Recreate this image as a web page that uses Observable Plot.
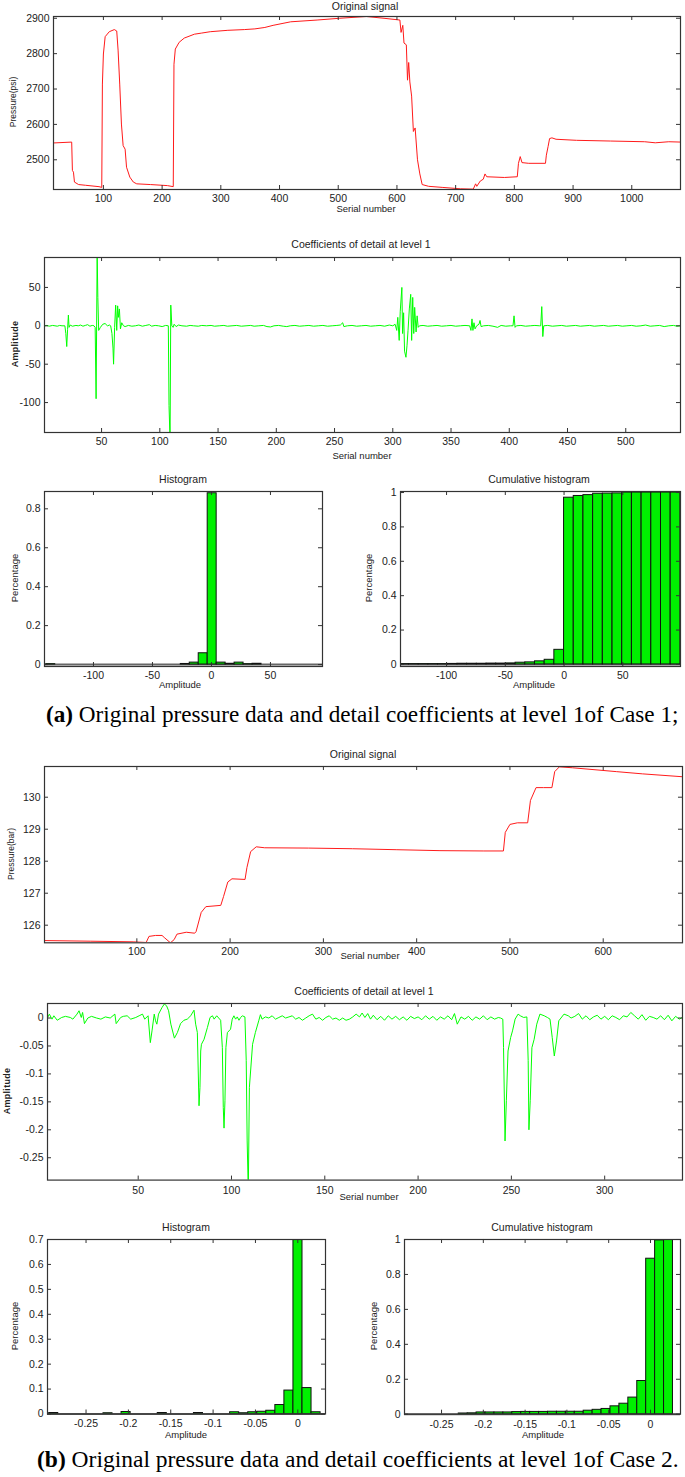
<!DOCTYPE html>
<html><head><meta charset="utf-8">
<script src="https://cdn.jsdelivr.net/npm/d3@7"></script>
<script src="https://cdn.jsdelivr.net/npm/@observablehq/plot@0.6"></script>
<style>
body{margin:0;background:#fff}
#page{position:relative;width:685px;height:1477px;overflow:hidden;background:#fff;font-family:"Liberation Sans",Arial,sans-serif;color:#222}
.t{position:absolute;white-space:nowrap;transform:translate(-50%,-50%);line-height:1}
.r{transform:translate(-50%,-50%) rotate(-90deg)}
.cap{position:absolute;font-family:"Liberation Serif","Times New Roman",serif;white-space:nowrap;color:#000;line-height:1;transform:translateY(-50%)}
</style></head><body><div id="page"></div>
<script>
// ---------- Case 1: original signal (serial number, pressure psi) ----------
const signal1 = [[8,2547],[46,2550],[47.2,2470],[49,2465],[50.7,2437],[57.7,2430],[69.3,2428],[92.5,2424],[97.2,2422],[98.3,2714],[100,2799],[103,2848],[110,2862],[118.6,2868],[122.7,2864],[125,2810],[127.8,2714],[130.7,2601],[133.6,2540],[137,2530],[139.4,2479],[145,2451],[151,2437],[156.8,2432],[180,2430],[209,2427],[219,2424],[220.2,2770],[222.5,2813],[229,2832],[237.7,2844],[255,2855],[266.7,2858],[282,2862],[312,2866],[340,2868],[358,2870],[375,2874],[389,2880],[419,2890],[464,2895],[502,2900],[548,2905],[578,2900],[605,2895],[607,2860],[610,2880],[612,2830],[616,2825],[618,2725],[620,2775],[622,2720],[625,2680],[628,2580],[631,2590],[635,2500],[639,2460],[643,2430],[654,2425],[677,2422],[708,2418],[730,2417],[734,2432],[736,2425],[742,2440],[747,2445],[750,2460],[753,2452],[783,2450],[805,2452],[807,2490],[810,2509],[813,2492],[824.5,2490],[853,2490],[854.5,2513],[857.4,2537],[860,2560],[864,2562],[871,2558],[906,2555],[964,2553],[1022,2551],[1040,2548],[1063,2551],[1084,2550]];
const signal1XTicks = [100,200,300,400,500,600,700,800,900,1000];
const signal1YTicks = [2500,2600,2700,2800,2900];

// ---------- Case 1: detail coefficients at level 1 ----------
const coef1 = [[1,0],[3,0.5],[5,-0.5],[8,0.5],[10,0],[12,-0.5],[14,0.5],[16,0],[18.5,0],[19.3,-10],[20.1,-27],[20.8,-5],[21.5,14],[22.1,-2],[23,1],[25,-0.5],[28,0.5],[30,0],[32,1],[34,-0.5],[36,0.5],[38,1.5],[40,-0.5],[42,0.5],[43.5,0],[44.5,-2],[45.3,-95],[46.2,95],[46.8,37],[47.5,-6],[49,-2],[51,2],[53,3],[55,0],[57,1],[57.8,0],[58.9,-10],[59.8,-29],[60.3,-50],[61.2,-2],[62.1,27],[63,-6],[63.8,26],[64.4,11],[65.3,22],[66.2,-4],[67.3,4],[68.8,0],[70.2,-1],[73,0.5],[76,-0.5],[79,0],[82,1],[85,-0.5],[88,0.5],[91,1.5],[93,-0.5],[96,0.5],[99,0],[102,-1],[105,0.5],[107.3,0],[107.9,-104],[108.8,-150],[109.4,27],[110.3,0],[111.4,-2],[112.3,2],[114,-1],[116,1],[119,0],[123,-0.5],[126,0.5],[129,0],[133,-0.5],[136,0.5],[140,0],[144,0.5],[147,-0.5],[151,0],[155,0.5],[158,-0.5],[162,0],[166,0.5],[170,-0.5],[174,0],[178,0.5],[181,-0.5],[185,0],[189,0.5],[192,-1],[195,-1.5],[198,0],[202,0.5],[206,-0.5],[209,-1],[212,0],[216,0.5],[220,-0.5],[224,0],[228,0.5],[232,-0.5],[236,0],[240,0.5],[244,-0.5],[248,0],[252,0.5],[255,1],[257,4],[258,-1],[261,0],[265,0.5],[269,-0.5],[273,0],[277,0.5],[281,-0.5],[285,0],[289,0.5],[293,-0.5],[297,1],[300,0],[302,2],[303.4,-6],[304.3,11],[305.5,-19],[306.4,19],[307.8,50],[308.4,-10],[309.3,17],[310.1,-33],[311.3,-41],[312.2,-26],[313.1,-6],[314.2,22],[315.4,41],[316.2,-19],[317.1,37],[318,-10],[318.8,24],[320,-8],[320.9,13],[321.8,-2],[322.9,0],[326,0.5],[330,-0.5],[334,0],[338,0.5],[342,-0.5],[346,0],[350,0.5],[354,-0.5],[358,0],[362,0.5],[366,0],[367.1,-6],[368,9],[368.8,-6],[369.7,4],[370.6,-4],[372,0],[374,2],[374.9,7],[375.8,-1],[378,0],[382,0.5],[386,-0.5],[390,-2],[393,0.5],[397,-0.5],[401,0],[403.2,0],[404.1,13],[405,-2],[406.1,0],[410,0.5],[414,-0.5],[418,0],[422,0.5],[426,0],[427,0],[427.9,25],[428.8,-14],[429.6,0],[433,0.5],[437,-0.5],[441,0],[445,0.5],[449,-0.5],[453,0],[457,0.5],[461,-0.5],[465,0],[469,0.5],[473,-0.5],[477,0],[481,0.5],[485,-0.5],[489,0],[493,0.5],[497,-0.5],[501,0],[505,0.5],[509,-0.5],[513,0],[517,1],[521,-0.5],[525,0],[529,0.5],[533,-1],[537,0],[541,0.5],[544,-0.5],[547,0]];
const coef1XTicks = [50,100,150,200,250,300,350,400,450,500];
const coef1YTicks = [-100,-50,0,50];

// ---------- Case 1: histogram and cumulative histogram ----------
const hist1Min = -140, hist1Width = 7.6;
const hist1Values = [0.002,0,0,0,0,0,0,0,0,0,0,0,0,0,0,0.003,0.01,0.058,0.88,0.01,0.004,0.01,0.002,0.004,0,0,0,0,0,0];
const cum1Min = -140.25, cum1Width = 8.25;
const cum1Values = [0.002,0.002,0.002,0.002,0.002,0.003,0.004,0.004,0.004,0.005,0.005,0.006,0.01,0.012,0.018,0.027,0.085,0.97,0.98,0.985,0.993,0.994,0.995,1,1,1,1,1,1];
const hist1XTicks = [-100,-50,0,50];
const hist1YTicks = [0,0.2,0.4,0.6,0.8];
const cum1YTicks = [0,0.2,0.4,0.6,0.8,1];

// ---------- Case 2: original signal (serial number, pressure bar) ----------
const signal2 = [[1,125.52],[50,125.5],[96,125.48],[110,125.46],[113,125.65],[120,125.68],[127,125.68],[130,125.6],[136,125.45],[140,125.55],[143,125.72],[153,125.78],[162,125.75],[163.5,125.8],[169,126.4],[174,126.58],[190,126.62],[193,126.9],[197.5,127.35],[202,127.45],[216,127.43],[218,127.8],[222,128.3],[228,128.45],[237,128.42],[284,128.41],[331,128.39],[378,128.36],[425,128.33],[472,128.32],[493,128.32],[495,128.9],[500,129.15],[508,129.2],[519,129.2],[522,129.9],[528,130.3],[536,130.3],[545,130.3],[548,130.8],[553,130.95],[567,130.92],[614,130.8],[642,130.73],[685,130.64]];
const signal2XTicks = [100,200,300,400,500,600];
const signal2YTicks = [126,127,128,129,130];

// ---------- Case 2: detail coefficients at level 1 ----------
const coef2 = [[1.3,0],[2.4,0.007],[3.8,-0.002],[4.8,0.004],[6.6,-0.004],[9,0.001],[11,0.003],[13.6,0.001],[15,-0.002],[17.2,0.007],[18.3,0.013],[19.5,0.001],[20.2,0.01],[21.2,-0.01],[23,0],[25,0.003],[27.7,0],[30,-0.002],[32.4,0.002],[35,0],[37.5,0.007],[38.2,-0.01],[40.6,0.001],[42,0.003],[44.1,0.004],[46,-0.002],[48.7,0.001],[50.5,0.004],[52.3,0.007],[53.5,-0.002],[55.3,0.004],[56.5,-0.044],[57.4,-0.023],[58.6,0.007],[59.3,-0.005],[60,-0.011],[60.9,0.007],[62.8,0.019],[64,0.025],[65.2,0.022],[66.3,0.013],[67.5,-0.011],[69.4,-0.036],[71,-0.026],[72.7,-0.01],[74.5,-0.004],[76.3,-0.002],[78.1,0.004],[79.9,0.014],[80.8,-0.011],[81.7,-0.026],[82.6,-0.157],[83.1,-0.124],[83.5,-0.059],[83.9,-0.047],[85.3,-0.038],[87.1,-0.017],[88.5,0.001],[89.8,0.004],[90.7,-0.002],[92.1,0.004],[94.2,-0.004],[95.1,-0.053],[95.6,-0.16],[96,-0.197],[96.5,-0.148],[97,-0.053],[97.8,-0.026],[99.5,-0.02],[100.4,-0.002],[101.3,0.004],[102.2,-0.002],[103.1,0.002],[104,-0.004],[104.9,0.001],[105.8,0.004],[107.2,0.002],[107.9,-0.076],[108.4,-0.22],[109,-0.31],[109.6,-0.124],[111.3,-0.047],[112.8,-0.026],[114.6,-0.005],[115.5,0.006],[116.4,-0.002],[118.2,0.002],[120,0],[121.8,0.004],[123.6,-0.002],[125.4,0.001],[127.2,0.004],[129,0],[130.8,0.002],[132.6,0.004],[134.4,-0.002],[136.2,0.001],[138,-0.004],[139.8,0],[141.6,0.004],[143.4,0.007],[145.2,-0.002],[147,0.001],[148.8,-0.004],[150.6,0.001],[152.4,0.004],[154.2,-0.002],[156,0],[157.8,-0.004],[159.6,0],[161.4,-0.004],[163.2,-0.002],[165,0.002],[166.8,0.007],[168.6,0.002],[170,0.009],[171.5,0.001],[173,0.008],[174.5,-0.002],[176,0.005],[178,-0.003],[180,0.003],[182,-0.004],[184,0.004],[186,-0.002],[188,0.003],[190,-0.003],[192,0.002],[194,-0.004],[196,0.003],[198,-0.001],[200,0.002],[202,-0.003],[204,0.004],[206,-0.002],[208,0.003],[210,-0.004],[212,0.002],[214,-0.002],[216,0.004],[218,-0.003],[219.5,0.008],[221,-0.011],[223,0.002],[225,-0.002],[227,0.003],[229,-0.004],[231,0.002],[233,-0.002],[235,0.004],[237,-0.003],[239,0.002],[241,-0.002],[243,0.001],[244.2,0],[245.4,-0.002],[245.8,-0.053],[246.6,-0.22],[247.3,-0.148],[248.2,-0.059],[249.6,-0.035],[250.6,-0.023],[252,-0.002],[253.6,0.007],[254.8,0.004],[256.6,0.001],[258.3,0.002],[259,-0.076],[259.4,-0.2],[260.1,-0.148],[261,-0.053],[262.2,-0.038],[263.6,-0.011],[265.3,0.007],[267.6,0.004],[269.3,0.001],[270.7,-0.002],[271.9,-0.035],[273,-0.068],[274.2,-0.041],[275.4,-0.005],[278.2,0.007],[280.5,0.004],[282,0],[284,0.003],[286,0.008],[288,-0.002],[290,0.004],[292,-0.003],[294,0.002],[296,0.005],[298,-0.002],[300,0.003],[302,-0.003],[304,0.004],[306,0.001],[308,-0.003],[310,0.004],[312,0.002],[314,0.01],[316,0.004],[318,-0.002],[320,0.006],[322,-0.004],[324,0.003],[326,0.001],[328,-0.002],[330,0.004],[332,-0.003],[334,0.005],[336,-0.005],[338,0.003],[340,-0.002],[342,0.002]];
const coef2XTicks = [50,100,150,200,250,300];
const coef2YTicks = [-0.25,-0.2,-0.15,-0.1,-0.05,0];

// ---------- Case 2: histogram and cumulative histogram ----------
const hist2Min = -0.2935, hist2Width = 0.01068;
const hist2Values = [0.004,0,0,0,0,0,0.003,0,0.008,0,0,0,0.004,0,0,0,0.004,0,0,0,0.007,0.003,0.007,0.009,0.013,0.036,0.094,0.70,0.104,0.007];
const cum2Values = [0,0,0,0,0,0,0.004,0.005,0.01,0.01,0.01,0.01,0.012,0.013,0.013,0.013,0.014,0.014,0.014,0.014,0.02,0.025,0.03,0.045,0.06,0.095,0.19,0.89,0.995,1];
const hist2XTicks = [-0.25,-0.2,-0.15,-0.1,-0.05,0];
const hist2YTicks = [0,0.1,0.2,0.3,0.4,0.5,0.6,0.7];
const cum2YTicks = [0,0.2,0.4,0.6,0.8,1];

// ---------- helpers ----------
const page = document.getElementById("page");
const FONT = '"Liberation Sans", Arial, sans-serif';
const RED = "#ff1a1a", GREEN = "#00ff00", BAR = "#00f000", INK = "#333";

function bins(min, width, values) {
  return values.map((v, i) => ({x1: min + i * width, x2: min + (i + 1) * width, v}));
}
function pts(arr) { return arr.map(([x, y]) => ({x, y})); }

function panel(c) {
  const ml = 40, mr = 2, mt = 4, mb = 22;
  const fw = c.right - c.left, fh = c.bottom - c.top;
  const fmt = d => String(d);
  const svg = Plot.plot({
    width: fw + ml + mr, height: fh + mt + mb,
    marginLeft: ml, marginRight: mr, marginTop: mt, marginBottom: mb,
    style: {fontFamily: FONT, fontSize: (c.fs || 10) + "px", color: "#222", background: "transparent", overflow: "visible"},
    x: {domain: c.xDomain, ticks: c.xTicks, tickSize: 0, tickPadding: c.xPad || 5, tickFormat: fmt, label: null},
    y: {domain: c.yDomain, ticks: c.yTicks, tickSize: 0, tickPadding: 4, tickFormat: fmt, label: null},
    marks: [
      ...c.marks,
      Plot.ruleX(c.xTicks, {x: d => d, insetTop: fh - 4, stroke: INK}),
      Plot.ruleX(c.xTicks, {x: d => d, insetBottom: fh - 4, stroke: INK}),
      Plot.ruleY(c.yTicks, {y: d => d, insetRight: fw - 4, stroke: INK}),
      Plot.ruleY(c.yTicks, {y: d => d, insetLeft: fw - 4, stroke: INK}),
      Plot.frame({stroke: INK, strokeWidth: 1.2})
    ]
  });
  svg.style.position = "absolute";
  svg.style.left = (c.left - ml) + "px";
  svg.style.top = (c.top - mt) + "px";
  page.appendChild(svg);
}
function label(text, x, y, size, rot, bold) {
  const d = document.createElement("div");
  d.className = "t" + (rot ? " r" : "");
  d.textContent = text;
  d.style.left = x + "px"; d.style.top = y + "px"; d.style.fontSize = size + "px";
  if (bold) { d.style.fontWeight = "bold"; d.style.letterSpacing = "0.3px"; }
  page.appendChild(d);
}
function caption(letter, text, x, y, size) {
  const d = document.createElement("div");
  d.className = "cap";
  d.innerHTML = "<b>(" + letter + ")</b> " + text;
  d.style.left = x + "px"; d.style.top = y + "px"; d.style.fontSize = size + "px";
  page.appendChild(d);
}
const lineMark = (data, color) => Plot.line(pts(data), {x: "x", y: "y", stroke: color, strokeWidth: 1, clip: true});
const barMarks = (rows) => [Plot.rectY(rows, {x1: "x1", x2: "x2", y: "v", fill: BAR, stroke: "#111", strokeWidth: 1, clip: true})];
const base = () => Plot.ruleY([0], {stroke: "#666", strokeWidth: 2});

// ---------- panels ----------
panel({left: 53, right: 680, top: 16, bottom: 189, xDomain: [15, 1083], yDomain: [2416, 2905],
  xTicks: signal1XTicks, yTicks: signal1YTicks, fs: 10.5, marks: [lineMark(signal1, RED)]});
panel({left: 44, right: 680, top: 256.7, bottom: 431.7, xDomain: [1, 547], yDomain: [-139, 89],
  xTicks: coef1XTicks, yTicks: coef1YTicks, fs: 10.5, marks: [lineMark(coef1, GREEN)]});
panel({left: 44, right: 322, top: 491, bottom: 666, xDomain: [-141.5, 94.1], yDomain: [-0.01, 0.889],
  xTicks: hist1XTicks, yTicks: hist1YTicks, fs: 10.5,
  marks: [base(), ...barMarks(bins(hist1Min, hist1Width, hist1Values))]});
panel({left: 400, right: 680, top: 491, bottom: 666, xDomain: [-139.2, 99.1], yDomain: [-0.012, 1.006],
  xTicks: hist1XTicks, yTicks: cum1YTicks, fs: 10.5,
  marks: [base(), ...barMarks(bins(cum1Min, cum1Width, cum1Values))]});
panel({left: 44, right: 682, top: 766, bottom: 942.3, xDomain: [1, 685], yDomain: [125.45, 130.96],
  xTicks: signal2XTicks, yTicks: signal2YTicks, fs: 10.5, marks: [lineMark(signal2, RED)]});
panel({left: 47, right: 682, top: 1002.7, bottom: 1179.3, xDomain: [1.4, 341.7], yDomain: [-0.29, 0.026],
  xTicks: coef2XTicks, yTicks: coef2YTicks, fs: 10.5, xPad: 6, marks: [lineMark(coef2, GREEN)]});
panel({left: 47, right: 325, top: 1239, bottom: 1413.5, xDomain: [-0.2955, 0.0327], yDomain: [0, 0.7],
  xTicks: hist2XTicks, yTicks: hist2YTicks, fs: 10.5, xPad: 6,
  marks: [base(), ...barMarks(bins(hist2Min, hist2Width, hist2Values))]});
panel({left: 404, right: 680, top: 1239, bottom: 1413.7, xDomain: [-0.2943, 0.0359], yDomain: [0, 1],
  xTicks: hist2XTicks, yTicks: cum2YTicks, fs: 10.5, xPad: 6,
  marks: [base(), ...barMarks(bins(hist2Min, hist2Width, cum2Values))]});

// ---------- titles and axis labels ----------
label("Original signal", 365, 6, 10.5);
label("Coefficients of detail at level 1", 361, 244, 10.5);
label("Histogram", 183, 479, 10.5);
label("Cumulative histogram", 539, 479, 10.5);
label("Original signal", 363, 754, 10.5);
label("Coefficients of detail at level 1", 364, 991, 10.5);
label("Histogram", 186, 1227, 10.5);
label("Cumulative histogram", 542, 1227, 10.5);

label("Serial number", 366, 209, 9.5);
label("Serial number", 362, 456, 9.5);
label("Amplitude", 180, 685, 9.5);
label("Amplitude", 534, 685, 9.5);
label("Serial number", 370, 956, 9.5);
label("Serial number", 369, 1197, 9.5);
label("Amplitude", 186, 1435, 9.5);
label("Amplitude", 543, 1435, 9.5);

label("Pressure(psi)", 13, 102, 8.5, true);
label("Amplitude", 15, 344, 9, true, true);
label("Percentage", 15, 578, 9.5, true);
label("Percentage", 369, 578, 9.5, true);
label("Pressure(bar)", 11, 854, 8.5, true);
label("Amplitude", 7, 1091, 9, true, true);
label("Percentage", 15, 1326, 9.5, true);
label("Percentage", 374, 1326, 9.5, true);

caption("a", "Original pressure data and detail coefficients at level 1of Case 1;", 46, 715, 23.2);
caption("b", "Original pressure data and detail coefficients at level 1of Case 2.", 37, 1460, 23.5);
</script></body></html>
